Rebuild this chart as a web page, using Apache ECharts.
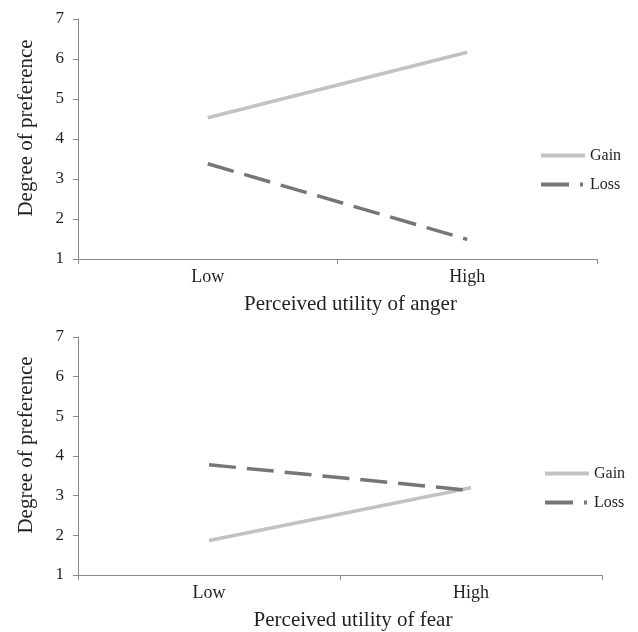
<!DOCTYPE html>
<html><head><meta charset="utf-8">
<script src="https://cdn.jsdelivr.net/npm/echarts@6/dist/echarts.min.js"></script>
<style>html,body{margin:0;padding:0;background:#fff}#c{width:638px;height:632px}</style>
</head><body><div id="c"></div>
<script>
var categories = ['Low', 'High'];
var angerGain = [4.53, 6.17];
var angerLoss = [3.38, 1.49];
var fearGain = [1.87, 3.2];
var fearLoss = [3.78, 3.13];
var seriesNames = ['Gain', 'Loss'];
var yTitle = 'Degree of preference';
var xTitles = ['Perceived utility of anger', 'Perceived utility of fear'];

var FONT = '"Liberation Serif", "Times New Roman", serif';
var TXT = '#231f20';
var AX = '#8a8a8a';
var GAIN = '#c2c2c2';
var LOSS = '#767676';
var DASH = [27, 11];
var ICON_SOLID = 'path://M0,0H44V4H0Z';
var ICON_DASH = 'path://M0,0H28V4H0Z M39,0H42V4H39Z M43.9,0H44V4H43.9Z';

function xAx(i, title) {
  return {
    type: 'category', gridIndex: i, data: categories, boundaryGap: true,
    axisLine: {lineStyle: {color: AX, width: 1}},
    axisTick: {show: true, length: 5, lineStyle: {color: AX}},
    axisLabel: {color: TXT, fontFamily: FONT, fontSize: 18, margin: 9},
    name: title, nameLocation: 'middle', nameGap: 35,
    nameTextStyle: {color: TXT, fontFamily: FONT, fontSize: 21, padding: [0, 0, 0, 26]}
  };
}
function yAx(i) {
  return {
    type: 'value', gridIndex: i, min: 1, max: 7, interval: 1,
    splitLine: {show: false},
    axisLine: {show: true, lineStyle: {color: AX, width: 1}},
    axisTick: {show: true, length: 5, lineStyle: {color: AX}},
    axisLabel: {color: TXT, fontFamily: FONT, fontSize: 17, margin: 14},
    name: yTitle, nameLocation: 'middle', nameGap: 41,
    nameTextStyle: {color: TXT, fontFamily: FONT, fontSize: 21, padding: [0, 0, 0, 22]}
  };
}
function line(name, data, i, color, dash) {
  return {
    name: name, type: 'line', xAxisIndex: i, yAxisIndex: i, data: data,
    showSymbol: false, symbol: 'none', silent: true, animation: false,
    lineStyle: {color: color, width: 3.5, type: dash ? DASH : 'solid', cap: 'butt'},
    itemStyle: {color: color}
  };
}
function legend(left, top) {
  return {
    orient: 'vertical', left: left, top: top, padding: 0,
    itemWidth: 44, itemHeight: 4, itemGap: 13,
    data: [
      {name: seriesNames[0], icon: ICON_SOLID, itemStyle: {color: GAIN, borderWidth: 0}},
      {name: seriesNames[1], icon: ICON_DASH, itemStyle: {color: LOSS, borderWidth: 0}}
    ],
    textStyle: {color: TXT, fontFamily: FONT, fontSize: 16, lineHeight: 16},
    selectedMode: false
  };
}
var chart = echarts.init(document.getElementById('c'), null, {renderer: 'canvas'});
chart.setOption({
  backgroundColor: '#fff',
  animation: false,
  grid: [
    {left: 78, top: 19, right: 41, height: 240},
    {left: 78, top: 337, right: 36, height: 240}
  ],
  xAxis: [xAx(0, xTitles[0]), xAx(1, xTitles[1])],
  yAxis: [yAx(0), yAx(1)],
  legend: [legend(541, 147.5), legend(545, 465.5)],
  series: [
    line(seriesNames[0], angerGain, 0, GAIN, false),
    line(seriesNames[1], angerLoss, 0, LOSS, true),
    line(seriesNames[0], fearGain, 1, GAIN, false),
    line(seriesNames[1], fearLoss, 1, LOSS, true)
  ]
});
</script></body></html>
